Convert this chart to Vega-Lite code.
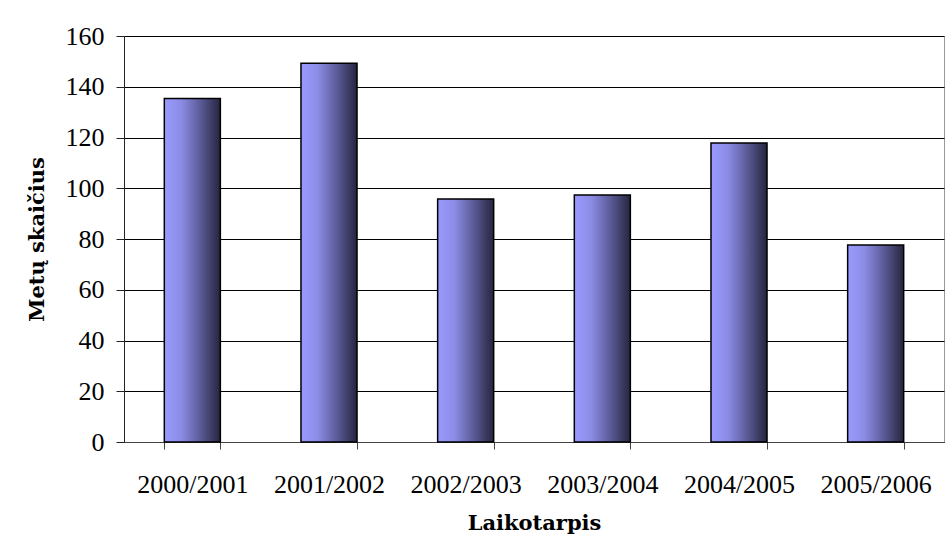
{
  "$schema": "https://vega.github.io/schema/vega-lite/v6.json",
  "width": 820,
  "height": 406,
  "autosize": "none",
  "padding": {"left": 124, "top": 36, "right": 8, "bottom": 112},
  "background": "white",
  "data": {
    "values": [
      {"period": "2000/2001", "value": 135.4},
      {"period": "2001/2002", "value": 149.3},
      {"period": "2002/2003", "value": 95.8},
      {"period": "2003/2004", "value": 97.3},
      {"period": "2004/2005", "value": 117.8},
      {"period": "2005/2006", "value": 77.6}
    ]
  },
  "mark": {
    "type": "bar",
    "stroke": "black",
    "strokeWidth": 1.5,
    "color": {
      "gradient": "linear",
      "x1": 0, "x2": 1, "y1": 0, "y2": 0,
      "stops": [
        {"offset": 0, "color": "#9a9aff"},
        {"offset": 0.3, "color": "#8c8ce6"},
        {"offset": 0.65, "color": "#5a5a96"},
        {"offset": 1, "color": "#25253f"}
      ]
    }
  },
  "encoding": {
    "x": {
      "field": "period",
      "type": "nominal",
      "sort": null,
      "scale": {"paddingInner": 0.59, "paddingOuter": 0.295},
      "axis": {
        "title": "Laikotarpis",
        "labelAngle": 0,
        "labelFont": "Liberation Serif",
        "labelFontSize": 26,
        "labelColor": "black",
        "labelPadding": 22,
        "tickBand": "extent",
        "tickSize": 7,
        "tickColor": "#444",
        "domainColor": "#444",
        "titleFont": "DejaVu Serif",
        "titleFontSize": 21,
        "titleFontWeight": "bold",
        "titleColor": "black",
        "titlePadding": 15
      }
    },
    "y": {
      "field": "value",
      "type": "quantitative",
      "scale": {"domain": [0, 160]},
      "axis": {
        "title": "Metų skaičius",
        "values": [0, 20, 40, 60, 80, 100, 120, 140, 160],
        "labelFont": "Liberation Serif",
        "labelFontSize": 26,
        "labelColor": "black",
        "labelPadding": 12,
        "tickSize": 8,
        "tickColor": "#222",
        "domainColor": "#222",
        "grid": true,
        "gridColor": "black",
        "gridWidth": 1,
        "titleFont": "DejaVu Serif",
        "titleFontSize": 21,
        "titleFontWeight": "bold",
        "titleColor": "black",
        "titlePadding": 18
      }
    }
  },
  "config": {
    "view": {"stroke": "#999", "strokeWidth": 1}
  }
}
